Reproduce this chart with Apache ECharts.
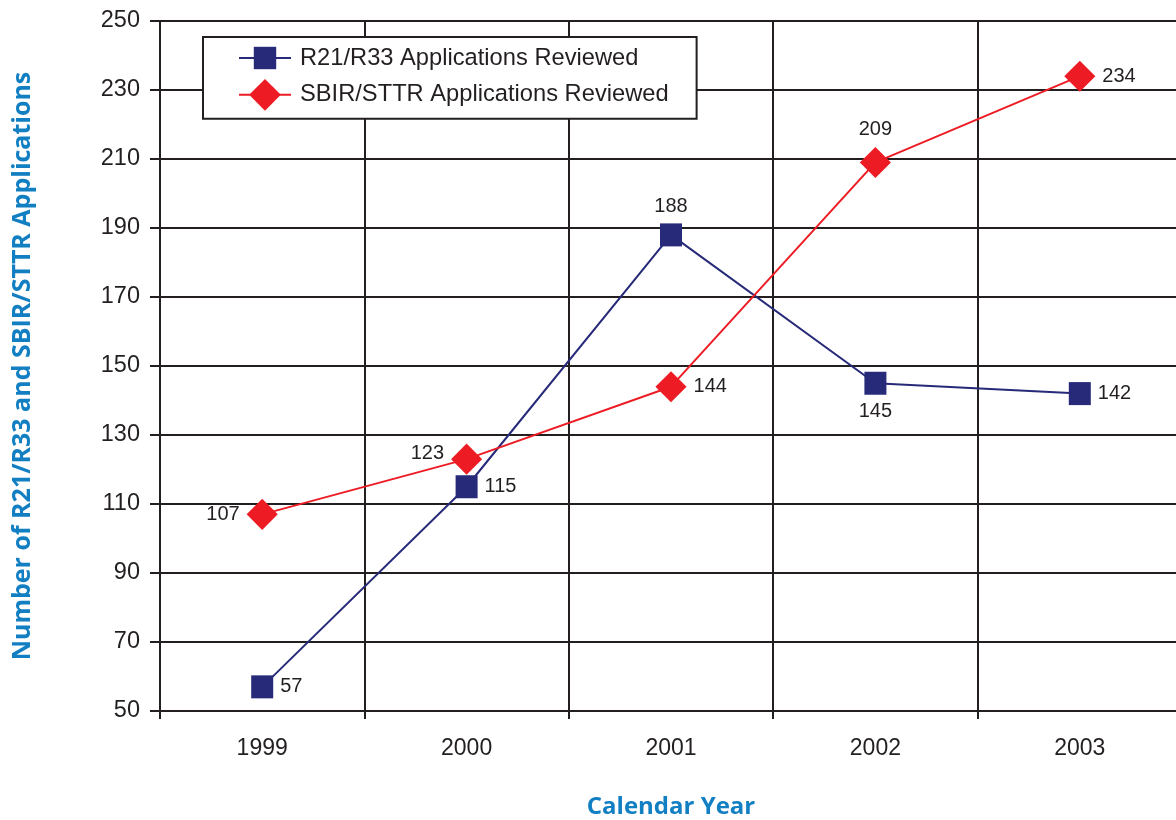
<!DOCTYPE html>
<html>
<head>
<meta charset="utf-8">
<style>
  html, body { margin: 0; padding: 0; background: #ffffff; }
  #chart { width: 1176px; height: 820px; }
</style>
<script src="https://cdn.jsdelivr.net/npm/echarts@6/dist/echarts.min.js"></script>
</head>
<body>
<div id="chart"></div>
<script>
// Applications reviewed per calendar year
const years = ['1999', '2000', '2001', '2002', '2003'];
const r21r33 = [57, 115, 188, 145, 142];
const sbirSttr = [107, 123, 144, 209, 234];
const yTicks = [50, 70, 90, 110, 130, 150, 170, 190, 210, 230, 250];

// where each value label sits relative to its marker
const r21LabelPos = ['right', 'right', 'top', 'bottom', 'right'];
const sbirLabelPos = ['left', 'left', 'right', 'top', 'right'];

const ink = '#231f20';
const titleBlue = '#127fc3';
const navy = '#262a78';
const red = '#ed1c24';
const bodyFont = 'Liberation Sans, Arial, sans-serif';
const titleFont = 'Open Sans, Lato, sans-serif';

function withLabels(values, positions, extra) {
  return values.map((v, i) => {
    const item = { value: v, label: { position: positions[i] } };
    if (extra && extra[i]) Object.assign(item.label, extra[i]);
    return item;
  });
}

const chart = echarts.init(document.getElementById('chart'), null, { renderer: 'canvas' });

chart.setOption({
  animation: false,
  backgroundColor: '#ffffff',
  // the last category column runs a few pixels past the right edge
  grid: { left: 160, top: 21, right: -6, bottom: 109, containLabel: false, outerBoundsMode: 'none' },
  legend: {
    left: 203,
    top: 37,
    orient: 'vertical',
    backgroundColor: '#ffffff',
    borderColor: ink,
    borderWidth: 2,
    borderRadius: 0,
    padding: [9, 28, 8, 35],
    itemWidth: 52,
    itemHeight: 28,
    itemGap: 9,
    textStyle: { color: ink, fontFamily: bodyFont, fontSize: 23.7, padding: [0, 0, 0, 4] },
    data: ['R21/R33 Applications Reviewed', 'SBIR/STTR Applications Reviewed']
  },
  xAxis: {
    type: 'category',
    data: years,
    boundaryGap: true,
    name: 'Calendar Year',
    nameLocation: 'middle',
    nameGap: 84,
    nameTextStyle: { color: titleBlue, fontFamily: titleFont, fontWeight: 'bold', fontSize: 24 },
    axisLine: { show: true, lineStyle: { color: ink, width: 2 } },
    axisTick: { show: true, inside: false, length: 8, alignWithLabel: false, lineStyle: { color: ink, width: 2 } },
    axisLabel: { color: ink, fontFamily: bodyFont, fontSize: 23, margin: 26 },
    splitLine: { show: true, lineStyle: { color: ink, width: 2 } }
  },
  yAxis: {
    type: 'value',
    min: 50,
    max: 250,
    interval: 10,
    name: 'Number of R21/R33 and SBIR/STTR Applications',
    nameLocation: 'middle',
    nameGap: 125,
    nameTextStyle: { color: titleBlue, fontFamily: titleFont, fontWeight: 'bold', fontSize: 25 },
    axisLine: { show: true, lineStyle: { color: ink, width: 2 } },
    axisTick: { show: true, length: 10, customValues: yTicks, lineStyle: { color: ink, width: 2 } },
    axisLabel: { color: ink, fontFamily: bodyFont, fontSize: 23.5, margin: 20, customValues: yTicks },
    splitLine: { show: true, lineStyle: { color: ink, width: 2 } }
  },
  series: [
    {
      name: 'R21/R33 Applications Reviewed',
      type: 'line',
      data: withLabels(r21r33, r21LabelPos),
      symbol: 'rect',
      symbolSize: [22, 23],
      color: navy,
      itemStyle: { color: navy },
      lineStyle: { color: navy, width: 2 },
      z: 3,
      label: {
        show: true,
        color: ink,
        fontFamily: bodyFont,
        fontSize: 20,
        distance: 7
      }
    },
    {
      name: 'SBIR/STTR Applications Reviewed',
      type: 'line',
      data: withLabels(sbirSttr, sbirLabelPos, [null, { offset: [0, -6] }, null, null, null]),
      symbol: 'rect',
      symbolSize: 22,
      symbolRotate: 45,
      color: red,
      itemStyle: { color: red },
      lineStyle: { color: red, width: 2 },
      z: 4,
      label: {
        show: true,
        color: ink,
        fontFamily: bodyFont,
        fontSize: 20,
        distance: 7
      }
    }
  ]
});
</script>
</body>
</html>
